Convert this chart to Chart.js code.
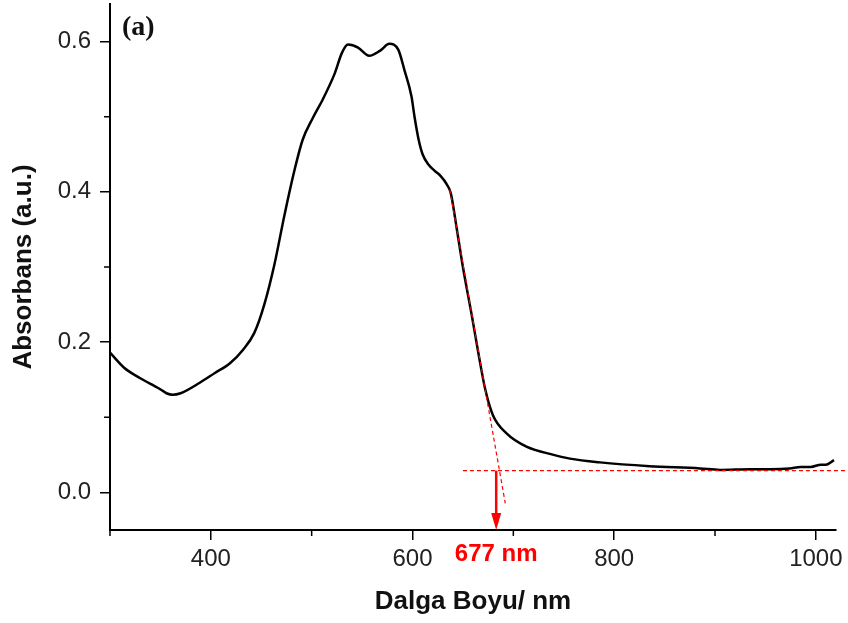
<!DOCTYPE html>
<html>
<head>
<meta charset="utf-8">
<script src="https://cdn.jsdelivr.net/npm/chart.js@4.4.0/dist/chart.umd.min.js"></script>
<style>
html, body { margin: 0; padding: 0; background: #fff; }
</style>
</head>
<body>
<canvas id="spectrum-chart" width="848" height="623"></canvas>
<script>
// UV-Vis absorbance spectrum
const wavelength = [300, 314, 330, 349, 356, 362, 370, 389, 404, 419, 432, 443, 453, 463, 473, 483, 491,
    501, 511, 523, 530, 536, 546, 557, 568, 577, 586, 592, 599, 602, 606, 610, 616, 622, 628, 634, 638, 644, 650,
    659, 665, 672, 680, 693, 713, 740, 756, 786, 835, 885, 905, 935, 955, 974, 985, 995, 1005, 1010, 1018];
const absorbance = [0.186, 0.166, 0.152, 0.138, 0.132, 0.130, 0.132, 0.146, 0.159, 0.172, 0.190, 0.212, 0.250, 0.303, 0.369, 0.429, 0.469,
    0.498, 0.523, 0.558, 0.585, 0.596, 0.592, 0.581, 0.588, 0.597, 0.589, 0.562, 0.527, 0.500, 0.470, 0.450, 0.436, 0.428, 0.421, 0.410, 0.398, 0.350, 0.300,
    0.234, 0.188, 0.138, 0.102, 0.079, 0.061, 0.050, 0.045, 0.040, 0.035, 0.032, 0.030, 0.031, 0.031, 0.032, 0.034, 0.034, 0.037, 0.037, 0.043];

// onset construction lines
const tangentX = [637, 692];
const tangentY = [0.403, -0.0145];
const baselineX = [650, 1033];
const baselineY = [0.029, 0.029];
const edgeWavelength = 683;
const edgeLabel = '677 nm';
const panelLabel = '(a)';

const xMajorTicks = [400, 600, 800, 1000];
const xMinorTicks = [300, 500, 700, 900];
const yMajorTicks = [0.0, 0.2, 0.4, 0.6];
const yMinorTicks = [0.1, 0.3, 0.5];

const toPoints = function (xs, ys) {
    return xs.map((x, i) => ({x: x, y: ys[i]}));
};

const SANS = "'Liberation Sans', Arial, sans-serif";

const extrasPlugin = {
    id: 'extras',
    afterDatasetsDraw(chart) {
        const c = chart.ctx;
        const xs = chart.scales.x;
        const ys = chart.scales.y;
        const area = chart.chartArea;
        c.save();

        // minor ticks
        c.strokeStyle = '#000';
        c.lineWidth = 1.5;
        c.beginPath();
        for (const v of xMinorTicks) {
            const px = xs.getPixelForValue(v);
            c.moveTo(px, area.bottom);
            c.lineTo(px, area.bottom + 6);
        }
        for (const v of yMinorTicks) {
            const py = ys.getPixelForValue(v);
            c.moveTo(area.left, py);
            c.lineTo(area.left - 6, py);
        }
        c.stroke();

        // arrow down to the axis
        const ax = xs.getPixelForValue(edgeWavelength);
        const ay0 = ys.getPixelForValue(baselineY[0]);
        const ay1 = area.bottom;
        c.strokeStyle = '#ff0000';
        c.fillStyle = '#ff0000';
        c.lineWidth = 2.5;
        c.beginPath();
        c.moveTo(ax, ay0);
        c.lineTo(ax, ay1 - 14);
        c.stroke();
        c.beginPath();
        c.moveTo(ax - 5, ay1 - 17);
        c.lineTo(ax + 5, ay1 - 17);
        c.lineTo(ax, ay1);
        c.closePath();
        c.fill();

        // texts
        c.font = 'bold 24px ' + SANS;
        c.textAlign = 'center';
        c.textBaseline = 'middle';
        c.fillText(edgeLabel, ax, area.bottom + 24);

        c.fillStyle = '#111';
        c.font = "bold 28px 'Liberation Serif', 'Times New Roman', serif";
        c.textAlign = 'left';
        c.fillText(panelLabel, area.left + 12, area.top + 24);
        c.restore();
    }
};

const chart = new Chart(document.getElementById('spectrum-chart'), {
    type: 'line',
    data: {
        datasets: [
            {
                label: 'Absorbans',
                data: toPoints(wavelength, absorbance),
                borderColor: '#000',
                borderWidth: 2.5,
                pointRadius: 0,
                cubicInterpolationMode: 'monotone',
                fill: false,
                order: 2
            },
            {
                label: 'tangent',
                data: toPoints(tangentX, tangentY),
                borderColor: '#ff0000',
                borderWidth: 1.2,
                borderDash: [4, 3],
                pointRadius: 0,
                fill: false,
                order: 1
            },
            {
                label: 'baseline',
                data: toPoints(baselineX, baselineY),
                borderColor: '#ff0000',
                borderWidth: 1.2,
                borderDash: [4, 3],
                pointRadius: 0,
                fill: false,
                clip: false,
                order: 1
            }
        ]
    },
    options: {
        responsive: false,
        animation: false,
        layout: {
            padding: {top: 4, right: 12, left: 0, bottom: 0}
        },
        scales: {
            x: {
                type: 'linear',
                min: 300,
                max: 1020,
                afterBuildTicks: function (scale) {
                    scale.ticks = xMajorTicks.map(v => ({value: v}));
                },
                afterFit: function (scale) {
                    scale.height = 93;
                    scale.paddingLeft = 0;
                    scale.paddingRight = 0;
                },
                border: {display: true, color: '#000', width: 2},
                grid: {drawOnChartArea: false, tickLength: 10, color: '#000', lineWidth: 1.5},
                ticks: {
                    padding: 5,
                    maxRotation: 0,
                    color: '#222',
                    font: {size: 24, family: SANS},
                    callback: function (value) {
                        return value;
                    }
                },
                title: {
                    display: true,
                    text: 'Dalga Boyu/ nm',
                    color: '#111',
                    font: {size: 26, weight: 'bold', family: SANS},
                    padding: {top: 0, bottom: 6}
                }
            },
            y: {
                type: 'linear',
                min: -0.05,
                max: 0.65,
                afterBuildTicks: function (scale) {
                    scale.ticks = yMajorTicks.map(v => ({value: v}));
                },
                afterFit: function (scale) {
                    scale.width = 110;
                    scale.paddingTop = 0;
                    scale.paddingBottom = 0;
                },
                border: {display: true, color: '#000', width: 2},
                grid: {drawOnChartArea: false, tickLength: 10, color: '#000', lineWidth: 1.5},
                ticks: {
                    padding: 9,
                    color: '#222',
                    font: {size: 24, family: SANS},
                    callback: function (value) {
                        return value.toFixed(1);
                    }
                },
                title: {
                    display: true,
                    text: 'Absorbans (a.u.)',
                    color: '#111',
                    font: {size: 26, weight: 'bold', family: SANS},
                    padding: {top: 8, bottom: 0}
                }
            }
        },
        plugins: {
            legend: {display: false},
            tooltip: {enabled: false},
            title: {display: false}
        }
    },
    plugins: [extrasPlugin]
});
</script>
</body>
</html>
